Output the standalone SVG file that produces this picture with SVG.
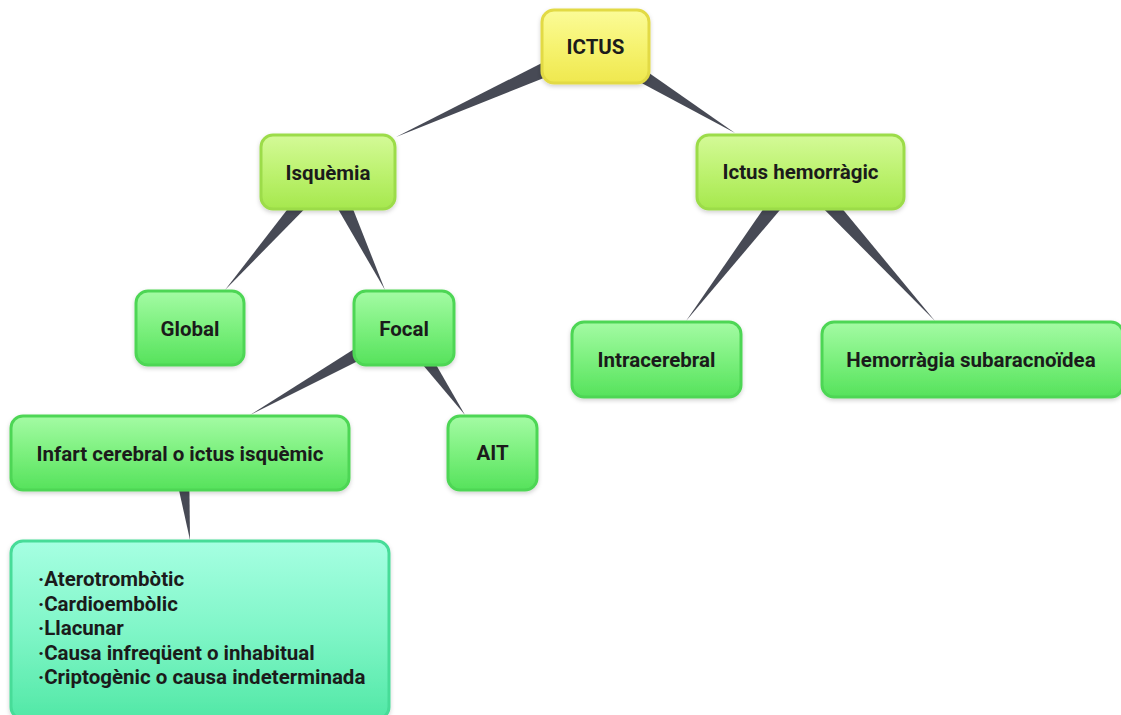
<svg xmlns="http://www.w3.org/2000/svg" width="1121" height="715" viewBox="0 0 1121 715">
<defs>
<linearGradient id="gY" x1="0" y1="0" x2="0" y2="1"><stop offset="0" stop-color="#fbfb98"/><stop offset="0.5" stop-color="#f6f370"/><stop offset="1" stop-color="#efe84e"/></linearGradient>
<linearGradient id="gL" x1="0" y1="0" x2="0" y2="1"><stop offset="0" stop-color="#d4fa98"/><stop offset="0.5" stop-color="#bdf270"/><stop offset="1" stop-color="#a6e84e"/></linearGradient>
<linearGradient id="gG" x1="0" y1="0" x2="0" y2="1"><stop offset="0" stop-color="#a4fba4"/><stop offset="0.5" stop-color="#7cf07e"/><stop offset="1" stop-color="#56e25c"/></linearGradient>
<linearGradient id="gT" x1="0" y1="0" x2="0" y2="1"><stop offset="0" stop-color="#a6ffe2"/><stop offset="0.5" stop-color="#80f6c8"/><stop offset="1" stop-color="#52e8a6"/></linearGradient>
<filter id="sh" x="-10%" y="-10%" width="120%" height="130%"><feDropShadow dx="0" dy="2" stdDeviation="2" flood-color="#000" flood-opacity="0.18"/></filter>
<style>
.n rect{stroke-width:3;filter:url(#sh)}
.y rect{fill:url(#gY);stroke:#e2da44}
.l rect{fill:url(#gL);stroke:#9cdc4a}
.g rect{fill:url(#gG);stroke:#4ed654}
.t rect{fill:url(#gT);stroke:#46dc98}
.n text{font-family:Roboto,"Liberation Sans",sans-serif;font-weight:bold;font-size:20.5px;fill:#1b1b1b;text-anchor:middle;dominant-baseline:central}
.n text.list{text-anchor:start;dominant-baseline:auto}
.c polygon{fill:#474a55}
</style>
</defs>
<rect width="1121" height="715" fill="#ffffff"/>
<g id="connectors" class="c">
<polygon points="591,38 599,56 396,137"/>
<polygon points="599,38 591,56 735,133"/>
<polygon points="321,166 335,178 225,290"/>
<polygon points="320,178 336,166 385,290"/>
<polygon points="400,320 408,336 250,415"/>
<polygon points="396,333 412,323 465,415"/>
<polygon points="793,166 807,178 686,321"/>
<polygon points="793,178 807,166 935,321"/>
<polygon points="171,454 189,452 190,540"/>
</g>
<g id="n-ictus" class="n y"><rect x="542" y="10" width="107" height="73" rx="12"/><text x="595.5" y="47">ICTUS</text></g>
<g id="n-isquemia" class="n l"><rect x="261" y="135" width="134" height="74" rx="12"/><text x="328" y="173">Isquèmia</text></g>
<g id="n-hemorragic" class="n l"><rect x="697" y="135" width="207" height="74" rx="12"/><text x="800.5" y="172">Ictus hemorràgic</text></g>
<g id="n-global" class="n g"><rect x="136" y="291" width="108" height="74" rx="12"/><text x="190" y="329">Global</text></g>
<g id="n-focal" class="n g"><rect x="354" y="291" width="100" height="74" rx="12"/><text x="404" y="329">Focal</text></g>
<g id="n-intracerebral" class="n g"><rect x="572" y="322" width="169" height="75" rx="12"/><text x="656.5" y="360">Intracerebral</text></g>
<g id="n-subaracnoidea" class="n g"><rect x="822" y="322" width="301" height="75" rx="12"/><text x="971" y="360">Hemorràgia subaracnoïdea</text></g>
<g id="n-infart" class="n g"><rect x="11" y="416" width="338" height="74" rx="12"/><text x="180" y="454">Infart cerebral o ictus isquèmic</text></g>
<g id="n-ait" class="n g"><rect x="448" y="416" width="89" height="74" rx="12"/><text x="492.5" y="453">AIT</text></g>
<g id="n-list" class="n t"><rect x="11" y="541" width="378" height="178" rx="12"/>
<text class="list" x="38" y="586">·Aterotrombòtic</text>
<text class="list" x="38" y="610.5">·Cardioembòlic</text>
<text class="list" x="38" y="635">·Llacunar</text>
<text class="list" x="38" y="659.5">·Causa infreqüent o inhabitual</text>
<text class="list" x="38" y="684">·Criptogènic o causa indeterminada</text>
</g>
</svg>
